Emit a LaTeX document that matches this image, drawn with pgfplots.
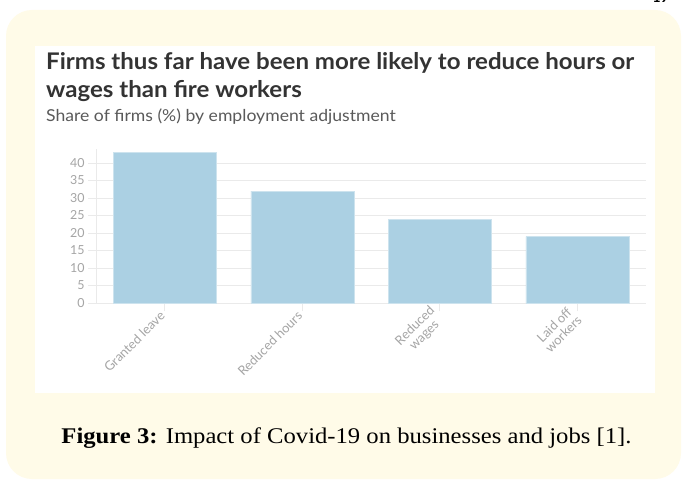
\documentclass[border=0pt]{standalone}
\usepackage{pgfplots}
\pgfplotsset{compat=1.18}
\usepackage{fontspec}
\setmainfont{Lato}
\newfontfamily\capfont{Liberation Serif}
\definecolor{bgyellow}{RGB}{255,251,232}
\definecolor{barblue}{RGB}{171,208,227}
\definecolor{tickgray}{RGB}{165,165,165}
\definecolor{gridgray}{RGB}{234,234,234}
\definecolor{titlecol}{RGB}{51,51,51}
\definecolor{subcol}{RGB}{90,90,90}
\begin{document}
\begin{tikzpicture}[x=1bp,y=1bp]
\clip (0,0) rectangle (682,-480);
\fill[white] (0,0) rectangle (682,-480);
\fill[bgyellow, rounded corners=26bp] (6,-10) rectangle (681,-479);
\fill[white] (35,-46) rectangle (655,-393);
\node[anchor=base west, inner sep=0, text=titlecol, font=\fontsize{23}{28}\selectfont\bfseries] at (46,-70) {\scalebox{1.05}[1]{Firms thus far have been more likely to reduce hours or}};
\node[anchor=base west, inner sep=0, text=titlecol, font=\fontsize{23}{28}\selectfont\bfseries] at (46,-98) {\scalebox{1.05}[1]{wages than fire workers}};
\node[anchor=base west, inner sep=0, text=subcol, font=\fontsize{16.5}{18}\selectfont] at (46,-122) {\scalebox{1.07}[1]{Share of firms (\%) by employment adjustment}};
\node[anchor=base, inner sep=0, font=\capfont\fontsize{22.5}{26}\selectfont] at (346.5,-443) {\scalebox{1.1}[1]{\textbf{Figure 3:} Impact of Covid-19 on businesses and jobs [1].}};
\node[anchor=base east, inner sep=0, font=\bfseries\fontsize{14}{16}\selectfont] at (669,-3) {19};
\begin{axis}[
  at={(96bp,-303bp)}, anchor=south west,
  scale only axis, width=550bp, height=154bp,
  xmin=-0.5, xmax=3.5, ymin=0, ymax=44,
  axis x line=bottom, axis y line=left,
  axis line style={draw=gridgray, line width=1bp, -},
  ymajorgrids, grid style={draw=gridgray, line width=1bp},
  tick align=outside, major tick length=8bp,
  tick style={draw=gridgray, line width=1bp},
  ytick={0,5,10,15,20,25,30,35,40},
  xtick={0,1,2,3},
  xticklabels={Granted leave, Reduced hours, {Reduced\\wages}, {Laid off\\workers}},
  /pgf/number format/assume math mode=true,
  yticklabel style={text=tickgray, font=\fontsize{12.5}{14}\selectfont},
  xticklabel style={text=tickgray, font=\fontsize{13}{13}\selectfont, rotate=45, anchor=east, align=center},
]
\addplot[ybar, bar width=103bp, fill=barblue, draw=white!40!barblue] coordinates {(0,43) (1,32) (2,24) (3,19)};
\end{axis}
\end{tikzpicture}
\end{document}
